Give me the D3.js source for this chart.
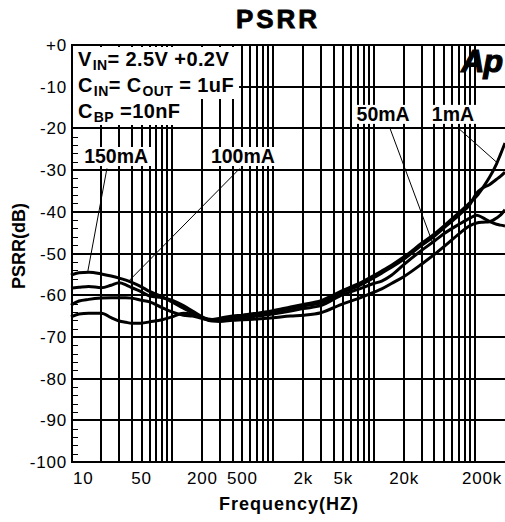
<!DOCTYPE html>
<html><head><meta charset="utf-8">
<script src="https://cdn.jsdelivr.net/npm/d3@7"></script>
<style>
body{margin:0;background:#fff}
svg{display:block}
text{font-family:"Liberation Sans",Arial,sans-serif;fill:#000}
</style></head><body>
<svg id="c" width="505" height="522"></svg>
<script>
// ---- data ----
const freqs = [10,12,15,20,25,30,35,40,50,60,80,100,130,160,200,250,300,400,500,700,1000,1500,2000,3000,5000,7000,10000,12000,15000,20000,30000,40000,50000,70000,90000,105000,120000,140000,165000,180000,200000];
const psrr150mA = [-55.2,-54.6,-54.5,-54.9,-55.4,-55.9,-56.4,-56.9,-58.0,-59.1,-60.4,-61.6,-63.1,-64.2,-65.5,-66.2,-66.3,-66.0,-65.9,-65.7,-65.4,-65.0,-64.8,-64.2,-62.0,-60.8,-59.3,-58.5,-57.2,-55.5,-52.5,-50.2,-48.3,-45.3,-43.3,-42.7,-42.5,-42.4,-41.5,-40.8,-39.5];
const psrr100mA = [-58.3,-58.1,-57.9,-58.2,-57.6,-57.0,-57.5,-58.2,-59.2,-60.2,-60.6,-61.2,-62.5,-63.8,-65.2,-66.0,-66.0,-65.6,-65.4,-65.0,-64.5,-63.8,-63.2,-62.5,-59.8,-58.6,-57.2,-56.6,-55.2,-52.6,-49.2,-47.0,-45.2,-43.0,-41.5,-40.8,-41.4,-42.3,-43.0,-43.2,-43.4];
const psrr50mA = [-62.4,-61.4,-61.0,-60.7,-60.6,-60.6,-60.6,-60.7,-61.2,-61.6,-63.0,-64.0,-64.8,-65.0,-65.6,-66.0,-65.8,-65.3,-65.0,-64.6,-64.0,-63.2,-62.6,-61.8,-59.2,-57.8,-55.8,-54.7,-53.3,-51.3,-48.0,-45.8,-43.8,-40.8,-38.2,-35.5,-34.3,-33.5,-32.2,-31.5,-30.5];
const psrr1mA = [-65.2,-64.5,-64.3,-64.3,-65.4,-66.2,-66.5,-66.7,-66.7,-66.4,-65.9,-65.2,-64.3,-64.6,-65.4,-65.8,-65.5,-65.0,-64.8,-64.3,-63.7,-62.8,-62.2,-61.3,-58.8,-57.3,-55.3,-54.2,-52.8,-50.8,-47.5,-45.3,-43.3,-40.2,-37.8,-36.2,-34.3,-31.8,-28.5,-26.3,-23.5];
const seriesNames = ["150mA","100mA","50mA","1mA"];
const seriesValues = [psrr150mA, psrr100mA, psrr50mA, psrr1mA];
const yTicks = [0,-10,-20,-30,-40,-50,-60,-70,-80,-90,-100];
const yTickLabels = ["+0","-10","-20","-30","-40","-50","-60","-70","-80","-90","-100"];
const xTicks = [10,50,200,500,2000,5000,20000,200000];
const xTickLabels = ["10","50","200","500","2k","5k","20k","200k"];
// curve labels and leader lines, in data units (Hz, dB)
const labelNames = ["150mA","100mA","50mA","1mA"];
const labelAt = [[28,-28.3],[505,-28.3],[12400,-18.2],[61000,-18.2]];
const leaderFrom = [[22.7,-29.6],[471,-29.6],[14400,-19.8],[67900,-19.8]];
const leaderTo = [[14.7,-54.2],[36.7,-56.8],[38400,-47.5],[165000,-28.1]];

// ---- layout ----
const svg = d3.select("#c");
const W = 505, H = 522;
const x = d3.scaleLog().domain([10,200000]).range([71,505]);
const y = d3.scaleLinear().domain([0,-100]).range([45,462]);

svg.append("rect").attr("width",W).attr("height",H).attr("fill","#fff");

// grid
const gridF = [];
for (let d=10; d<=100000; d*=10) for (let k=1;k<=9;k++){ const f=k*d; if(f>10 && f<200000) gridF.push(f); }
const g = svg.append("g").attr("shape-rendering","crispEdges");
g.selectAll(".vg").data(gridF).join("line")
  .attr("x1",d=>Math.round(x(d))).attr("x2",d=>Math.round(x(d)))
  .attr("y1",y(0)).attr("y2",y(-100)).attr("stroke","#000").attr("stroke-width",2);
g.selectAll(".hg").data(yTicks).join("line")
  .attr("x1",71).attr("x2",W).attr("y1",d=>Math.round(y(d))).attr("y2",d=>Math.round(y(d)))
  .attr("stroke","#000").attr("stroke-width",2);

// annotation box text
const ann = svg.append("g");
const annLines = [
  [["V",0],["IN",1],["= 2.5V +0.2V",0]],
  [["C",0],["IN",1],["= ",0],["C",0],["OUT",1],[" = 1uF",0]],
  [["C",0],["BP",1],[" =10nF",0]]
];
const annBase = [66,92,118];
annLines.forEach((parts,i)=>{
  const t = ann.append("text").attr("x",78).attr("y",annBase[i]).attr("font-size",20)
    .attr("font-weight","bold").attr("letter-spacing",0.4);
  let inSub = false;
  parts.forEach(([s,sub])=>{
    const ts = t.append("tspan").text(s);
    if(sub){ ts.attr("font-size",14).attr("dy",inSub?0:4).attr("dx",1); inSub = true; }
    else { ts.attr("dy", inSub?-4:0); inSub = false; }
  });
  const bb = t.node().getBBox();
  ann.insert("rect","text").attr("x",73).attr("y",i===0?47:bb.y-1).attr("width",bb.x+bb.width+5-73)
    .attr("height", i===0 ? bb.y+bb.height-46 : bb.height+1).attr("fill","#fff");
});

// curve labels
const lab = svg.append("g");
labelNames.forEach((n,i)=>{
  const t = lab.append("text").attr("x",x(labelAt[i][0])).attr("y",y(labelAt[i][1]))
    .attr("text-anchor","middle").attr("font-size",19.5).attr("font-weight","bold").text(n);
  const bb = t.node().getBBox();
  lab.insert("rect","text").attr("x",bb.x-3).attr("y",bb.y+2).attr("width",bb.width+6).attr("height",bb.height-3).attr("fill","#fff");
});

// Ap logo
svg.append("text").attr("x",502).attr("y",72).attr("text-anchor","end")
  .attr("font-size",32).attr("font-weight","bold").attr("font-style","italic")
  .attr("stroke","#000").attr("stroke-width",1.2)
  .attr("letter-spacing",-1).text("Ap");

// minor ticks on left axis
const minor = d3.range(0,-101,-2);
g.append("g").selectAll("line").data(minor).join("line")
  .attr("x1",71).attr("x2",78).attr("y1",d=>Math.round(y(d))).attr("y2",d=>Math.round(y(d)))
  .attr("stroke","#000").attr("stroke-width",1);
svg.append("line").attr("shape-rendering","crispEdges").attr("x1",72).attr("x2",72).attr("y1",y(0)-1).attr("y2",y(-100)+1)
  .attr("stroke","#000").attr("stroke-width",2);

// curves
const line = d3.line().x(d=>x(d[0])).y(d=>y(d[1])).curve(d3.curveMonotoneX);
svg.append("g").selectAll("path").data(seriesValues).join("path")
  .attr("d",vals=>line(freqs.map((f,i)=>[f,vals[i]])))
  .attr("fill","none").attr("stroke","#000").attr("stroke-width",3).attr("stroke-linejoin","round");

// leaders
svg.append("g").selectAll("line").data(labelNames).join("line")
  .attr("x1",(d,i)=>x(leaderFrom[i][0])).attr("y1",(d,i)=>y(leaderFrom[i][1]))
  .attr("x2",(d,i)=>x(leaderTo[i][0])).attr("y2",(d,i)=>y(leaderTo[i][1]))
  .attr("stroke","#000").attr("stroke-width",1);

// axis labels
svg.append("g").selectAll("text").data(yTicks).join("text")
  .attr("x",67).attr("y",d=>y(d)+6).attr("text-anchor","end").attr("font-size",17).attr("letter-spacing",0.8)
  .text((d,i)=>yTickLabels[i]);
svg.append("g").selectAll("text").data(xTicks).join("text")
  .attr("x",(d,i)=> i===0 ? x(d)+2 : (i===xTicks.length-1 ? x(d)-3 : x(d)))
  .attr("y",484).attr("letter-spacing",0.8)
  .attr("text-anchor",(d,i)=> i===0 ? "start" : (i===xTicks.length-1 ? "end" : "middle"))
  .attr("font-size",17).text((d,i)=>xTickLabels[i]);

svg.append("text").attr("x",278).attr("y",28).attr("text-anchor","middle")
  .attr("font-size",26).attr("font-weight","bold").attr("letter-spacing",3)
  .attr("stroke","#000").attr("stroke-width",0.8).text("PSRR");
svg.append("text").attr("x",289).attr("y",510).attr("text-anchor","middle")
  .attr("font-size",18).attr("font-weight","bold").attr("letter-spacing",1).text("Frequency(HZ)");
svg.append("text").attr("transform","translate(25,246) rotate(-90)").attr("text-anchor","middle")
  .attr("font-size",18).attr("font-weight","bold").text("PSRR(dB)");
</script>
</body></html>
